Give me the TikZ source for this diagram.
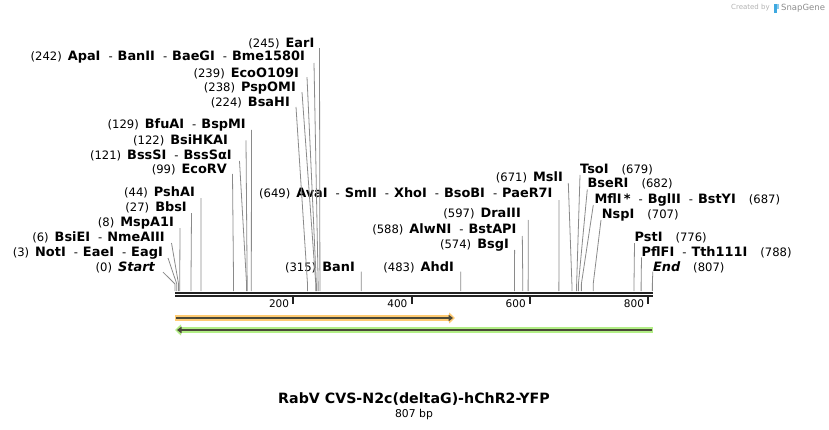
\documentclass[tikz,border=0pt]{standalone}
\usepackage{fontspec}
\setmainfont{DejaVu Sans}
\usepackage{tikz}
\usetikzlibrary{calc,arrows.meta}

\definecolor{cutgray}{HTML}{8A8A8A}
\definecolor{axisblack}{HTML}{222222}
\definecolor{featorange}{HTML}{FFCB73}
\definecolor{featgreen}{HTML}{B2EE86}
\definecolor{featdark}{HTML}{4A4838}
\definecolor{logoblue}{HTML}{3FA9E0}
\newcommand{\enz}[1]{{\fontsize{12.9}{14}\selectfont\bfseries #1}}
\newcommand{\dsep}{\hspace{8pt}-\hspace{5pt}}

\begin{document}
\begin{tikzpicture}[x=1pt,y=-1pt,
        lab/.style={inner sep=0pt,font=\fontsize{11.6}{13}\selectfont},
        cut/.style={draw=cutgray,line width=0.8pt},
        axis/.style={draw=axisblack,line width=2.3pt},
        tick/.style={draw=axisblack,line width=2pt}]

            \useasboundingbox (0,0) rectangle (829,430);

            \foreach \bp in {0,3,6,8,27,44,99,121,122,129,224,238,239,242,245,315,483,574,588,597,649,671,679,682,687,707,776,788,807}
                \coordinate (s\bp) at ({175+\bp*0.5915},291);

            \node[lab,anchor=base east] (lEarI) at (314.5,47.1) {(245)\hspace{6pt}\enz{EarI}};
            \node[lab,anchor=base east] (lApaI) at (305,60.4) {(242)\hspace{6pt}\enz{ApaI}\dsep\enz{BanII}\dsep\enz{BaeGI}\dsep\enz{Bme1580I}};
            \node[lab,anchor=base east] (lEcoO) at (299,77.1) {(239)\hspace{6pt}\enz{EcoO109I}};
            \node[lab,anchor=base east] (lPspOMI) at (296,91.7) {(238)\hspace{6pt}\enz{PspOMI}};
            \node[lab,anchor=base east] (lBsaHI) at (290,106.4) {(224)\hspace{6pt}\enz{BsaHI}};
            \node[lab,anchor=base east] (lBfuAI) at (246,128.4) {(129)\hspace{6pt}\enz{BfuAI}\dsep\enz{BspMI}};
            \node[lab,anchor=base east] (lBsiHKAI) at (228,144.4) {(122)\hspace{6pt}\enz{BsiHKAI}};
            \node[lab,anchor=base east] (lBssSI) at (232,159.4) {(121)\hspace{6pt}\enz{BssSI}\dsep\enz{BssSαI}};
            \node[lab,anchor=base east] (lEcoRV) at (227,173.4) {(99)\hspace{6pt}\enz{EcoRV}};
            \node[lab,anchor=base east] (lPshAI) at (195,196.1) {(44)\hspace{6pt}\enz{PshAI}};
            \node[lab,anchor=base east] (lBbsI) at (187,211.1) {(27)\hspace{6pt}\enz{BbsI}};
            \node[lab,anchor=base east] (lMspA1I) at (174,226.1) {(8)\hspace{6pt}\enz{MspA1I}};
            \node[lab,anchor=base east] (lBsiEI) at (165,241.7) {(6)\hspace{6pt}\enz{BsiEI}\dsep\enz{NmeAIII}};
            \node[lab,anchor=base east] (lNotI) at (163,256.7) {(3)\hspace{6pt}\enz{NotI}\dsep\enz{EaeI}\dsep\enz{EagI}};
            \node[lab,anchor=base east] (lStart) at (155,271.1) {(0)\hspace{6pt}\enz{\itshape Start}};

            \node[lab,anchor=base east] (lAvaI) at (552.7,197.1) {(649)\hspace{6pt}\enz{AvaI}\dsep\enz{SmlI}\dsep\enz{XhoI}\dsep\enz{BsoBI}\dsep\enz{PaeR7I}};
            \node[lab,anchor=base east] (lMslI) at (563,181.7) {(671)\hspace{6pt}\enz{MslI}};
            \node[lab,anchor=base east] (lDraIII) at (521,217.7) {(597)\hspace{6pt}\enz{DraIII}};
            \node[lab,anchor=base east] (lAlwNI) at (516.7,233.7) {(588)\hspace{6pt}\enz{AlwNI}\dsep\enz{BstAPI}};
            \node[lab,anchor=base east] (lBsgI) at (509,248.4) {(574)\hspace{6pt}\enz{BsgI}};
            \node[lab,anchor=base east] (lBanI) at (355,271.7) {(315)\hspace{6pt}\enz{BanI}};
            \node[lab,anchor=base east] (lAhdI) at (454,271.7) {(483)\hspace{6pt}\enz{AhdI}};

            \node[lab,anchor=base west] (lTsoI) at (580,173.4) {\enz{TsoI}\hspace{13pt}(679)};
            \node[lab,anchor=base west] (lBseRI) at (587.3,187.7) {\enz{BseRI}\hspace{13pt}(682)};
            \node[lab,anchor=base west] (lMflI) at (594.3,203.4) {\enz{MflI\,*}\dsep\enz{BglII}\dsep\enz{BstYI}\hspace{13pt}(687)};
            \node[lab,anchor=base west] (lNspI) at (601.7,218.4) {\enz{NspI}\hspace{13pt}(707)};
            \node[lab,anchor=base west] (lPstI) at (634.5,241.7) {\enz{PstI}\hspace{13pt}(776)};
            \node[lab,anchor=base west] (lPflFI) at (641.5,256.4) {\enz{PflFI}\dsep\enz{Tth111I}\hspace{13pt}(788)};
            \node[lab,anchor=base west] (lEnd) at (652.8,271.1) {\enz{\itshape End}\hspace{13pt}(807)};

            \begin{scope}[cut]
                \draw ([shift={(5,1)}]lEarI.base east) -- ([yshift=7pt]s245) -- (s245);
                \draw ([shift={(9,2.6)}]lApaI.base east) -- ([yshift=7pt]s242) -- (s242);
                \draw ([shift={(8,0)}]lEcoO.base east) -- ([yshift=7pt]s239) -- (s239);
                \draw ([shift={(6,0.5)}]lPspOMI.base east) -- ([yshift=7pt]s238) -- (s238);
                \draw ([shift={(6,0.6)}]lBsaHI.base east) -- ([yshift=7pt]s224) -- (s224);
                \draw ([shift={(5.5,1.6)}]lBfuAI.base east) -- ([yshift=7pt]s129) -- (s129);
                \draw ([shift={(18,-4)}]lBsiHKAI.base east) -- ([yshift=7pt]s122) -- (s122);
                \draw ([shift={(7.5,1.6)}]lBssSI.base east) -- ([yshift=7pt]s121) -- (s121);
                \draw ([shift={(5.5,0.6)}]lEcoRV.base east) -- ([yshift=7pt]s99) -- (s99);
                \draw ([shift={(6,2)}]lPshAI.base east) -- ([yshift=7pt]s44) -- (s44);
                \draw ([shift={(4.5,2)}]lBbsI.base east) -- ([yshift=7pt]s27) -- (s27);
                \draw ([shift={(6,2)}]lMspA1I.base east) -- ([yshift=7pt]s8) -- (s8);
                \draw ([shift={(6.5,1.3)}]lBsiEI.base east) -- ([yshift=7pt]s6) -- (s6);
                \draw ([shift={(5,1.3)}]lNotI.base east) -- ([yshift=7pt]s3) -- (s3);
                \draw ([shift={(8,1)}]lStart.base east) -- ([yshift=7pt]s0) -- (s0);
                \draw ([shift={(6.3,3)}]lAvaI.base east) -- ([yshift=7pt]s649) -- (s649);
                \draw ([shift={(5.3,1.3)}]lMslI.base east) -- ([yshift=7pt]s671) -- (s671);
                \draw ([shift={(7.3,2.3)}]lDraIII.base east) -- ([yshift=7pt]s597) -- (s597);
                \draw ([shift={(5.6,2.3)}]lAlwNI.base east) -- ([yshift=7pt]s588) -- (s588);
                \draw ([shift={(5.6,1.6)}]lBsgI.base east) -- ([yshift=7pt]s574) -- (s574);
                \draw ([shift={(6.3,0)}]lBanI.base east) -- ([yshift=7pt]s315) -- (s315);
                \draw ([shift={(6.7,0)}]lAhdI.base east) -- ([yshift=7pt]s483) -- (s483);
                \draw ([shift={(0,1.6)}]lTsoI.base west) -- ([yshift=7pt]s679) -- (s679);
                \draw ([shift={(0,1.8)}]lBseRI.base west) -- ([yshift=7pt]s682) -- (s682);
                \draw ([shift={(-1,1.6)}]lMflI.base west) -- ([yshift=7pt]s687) -- (s687);
                \draw ([shift={(-0.7,1.6)}]lNspI.base west) -- ([yshift=7pt]s707) -- (s707);
                \draw ([shift={(0,1.5)}]lPstI.base west) -- ([yshift=7pt]s776) -- (s776);
                \draw ([shift={(0,1)}]lPflFI.base west) -- ([yshift=7pt]s788) -- (s788);
                \draw ([shift={(0,0.6)}]lEnd.base west) -- ([yshift=7pt]s807) -- (s807);
            \end{scope}

            \draw[axis] (175,292.8) -- (653,292.8);
            \draw[axis] (175,296.3) -- (653,296.3);
            \foreach \k in {200,400,600,800} {
                \draw[tick] ({175+\k*0.5915},297) -- ++(0,7);
                \node[lab,font=\fontsize{10.5}{11}\selectfont,anchor=base east] (t\k) at ({171+\k*0.5915},307.3) {\k};
            }

            \coordinate (fA1) at (175,318);
            \coordinate (fA2) at (455,318);
            \coordinate (fB1) at (653,330);
            \coordinate (fB2) at (175,330);
            \draw[featorange,line width=5.5pt,-{Triangle[width=11pt,length=6pt]}] (fA1) -- (fA2);
            \draw[featdark,line width=2pt,-{Triangle[width=6.5pt,length=4.5pt]}] ([xshift=1pt]fA1) -- ([xshift=-2pt]fA2);
            \draw[featgreen,line width=5.5pt,-{Triangle[width=11pt,length=6pt]}] (fB1) -- (fB2);
            \draw[featdark,line width=2pt,-{Triangle[width=6.5pt,length=4.5pt]}] ([xshift=-1pt]fB1) -- ([xshift=2pt]fB2);

            \node[font=\fontsize{14.2}{16}\selectfont\bfseries] (title) at (414,399.5) {RabV CVS-N2c(deltaG)-hChR2-YFP};
            \node[font=\fontsize{10.8}{12}\selectfont] (size) at (414,414.5) {807 bp};

            \node[inner sep=0pt,anchor=west,font=\fontsize{7}{8}\selectfont,text=black!30] (made) at (731,8) {Created by};
            \fill[logoblue] (773.5,13) rectangle (776.5,4);
            \fill[logoblue!60] (776.5,4) rectangle (779,9);
            \node[inner sep=0pt,anchor=west,font=\fontsize{8.5}{9}\selectfont,text=black!45] (snap) at (781,8) {SnapGene};
\end{tikzpicture}
\end{document}
